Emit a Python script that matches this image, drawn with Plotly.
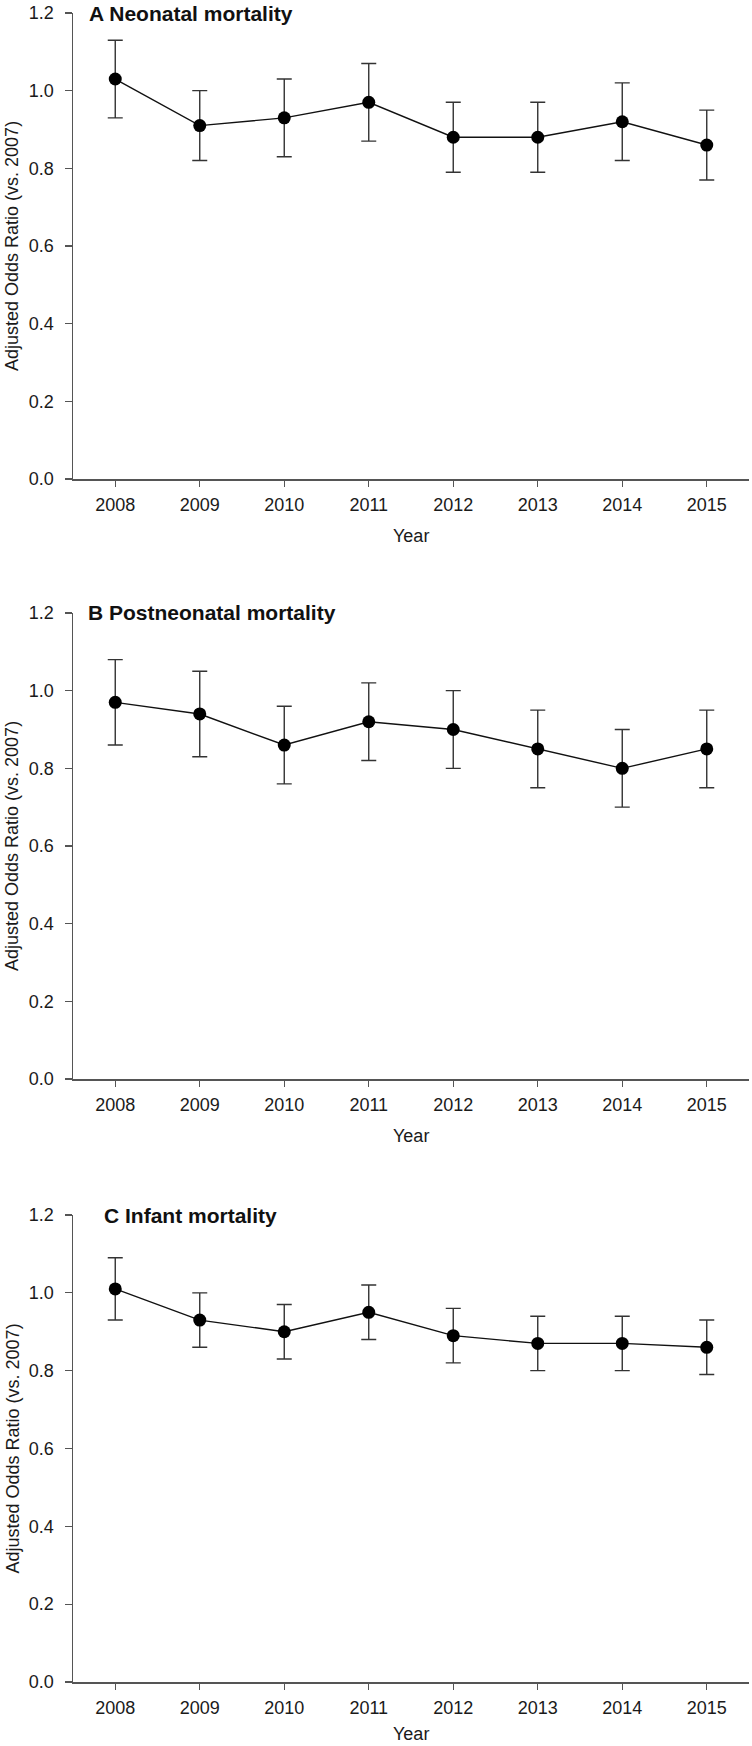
import plotly.graph_objects as go

years = [2008, 2009, 2010, 2011, 2012, 2013, 2014, 2015]
year_ticks = ["2008", "2009", "2010", "2011", "2012", "2013", "2014", "2015"]

# Panel A: Neonatal mortality
neo_or = [1.03, 0.91, 0.93, 0.97, 0.88, 0.88, 0.92, 0.86]
neo_lo = [0.93, 0.82, 0.83, 0.87, 0.79, 0.79, 0.82, 0.77]
neo_hi = [1.13, 1.00, 1.03, 1.07, 0.97, 0.97, 1.02, 0.95]

# Panel B: Postneonatal mortality
post_or = [0.97, 0.94, 0.86, 0.92, 0.90, 0.85, 0.80, 0.85]
post_lo = [0.86, 0.83, 0.76, 0.82, 0.80, 0.75, 0.70, 0.75]
post_hi = [1.08, 1.05, 0.96, 1.02, 1.00, 0.95, 0.90, 0.95]

# Panel C: Infant mortality
inf_or = [1.01, 0.93, 0.90, 0.95, 0.89, 0.87, 0.87, 0.86]
inf_lo = [0.93, 0.86, 0.83, 0.88, 0.82, 0.80, 0.80, 0.79]
inf_hi = [1.09, 1.00, 0.97, 1.02, 0.96, 0.94, 0.94, 0.93]

y_tickvals = [0.0, 0.2, 0.4, 0.6, 0.8, 1.0, 1.2]
y_ticktext = ["0.0", "0.2", "0.4", "0.6", "0.8", "1.0", "1.2"]

panels = [
    ("A Neonatal mortality", neo_or, neo_lo, neo_hi),
    ("B Postneonatal mortality", post_or, post_lo, post_hi),
    ("C Infant mortality", inf_or, inf_lo, inf_hi),
]

W, H = 752, 1746
PLOT_L, PLOT_R, PLOT_T, PLOT_B = 73, 749, 13, 1682  # page px
M_L, M_R, M_T, M_B = PLOT_L, W - PLOT_R, PLOT_T, H - PLOT_B
plot_h = H - M_T - M_B
plot_w = W - M_L - M_R
panel_px = [(13, 479), (613, 1079), (1215, 1682)]   # top/bottom of each panel
title_x_px = [87, 86, 102]
year_shift = [-57, -57, -52]

FONT = "Arial, 'Liberation Sans', Helvetica, sans-serif"
AXIS_COLOR = "#555555"

fig = go.Figure()
annotations = []
layout_axes = {}

for i, (title, orv, lo, hi) in enumerate(panels):
    n = "" if i == 0 else str(i + 1)
    xa, ya = "x" + n, "y" + n
    err_plus = [h - v for h, v in zip(hi, orv)]
    err_minus = [v - l for v, l in zip(orv, lo)]
    fig.add_trace(go.Scatter(
        x=years, y=orv, xaxis=xa, yaxis=ya,
        mode="lines+markers",
        line=dict(color="#111111", width=1.4),
        marker=dict(color="#000000", size=13),
        error_y=dict(type="data", symmetric=False, array=err_plus,
                     arrayminus=err_minus, color="#333333",
                     thickness=1.4, width=7.5),
        showlegend=False,
        hoverinfo="skip",
    ))
    top, bot = panel_px[i]
    d0 = (PLOT_B - bot) / plot_h
    d1 = (PLOT_B - top) / plot_h
    layout_axes["xaxis" + n] = dict(
        domain=[0, 1], anchor=ya, range=[2007.5, 2015.5],
        tickmode="array", tickvals=years, ticktext=year_ticks,
        showline=True, linecolor=AXIS_COLOR, linewidth=1.5,
        ticks="outside", ticklen=6, tickwidth=1.3, tickcolor=AXIS_COLOR,
        showgrid=False, zeroline=False, ticklabelstandoff=3,
        tickfont=dict(family=FONT, size=18, color="#1a1a1a"),
    )
    layout_axes["yaxis" + n] = dict(
        domain=[d0, d1], anchor=xa, range=[0, 1.2],
        tickmode="array", tickvals=y_tickvals, ticktext=y_ticktext,
        showline=True, linecolor=AXIS_COLOR, linewidth=1.5,
        ticks="outside", ticklen=7, tickwidth=1.3, tickcolor=AXIS_COLOR,
        showgrid=False, zeroline=False, ticklabelstandoff=7,
        tickfont=dict(family=FONT, size=18, color="#1a1a1a"),
    )
    # panel title
    annotations.append(dict(
        text="<b>" + title + "</b>", xref="paper", yref=ya + " domain",
        x=(title_x_px[i] - PLOT_L) / plot_w, y=1, xanchor="left",
        yanchor="middle", showarrow=False,
        font=dict(family=FONT, size=21, color="#111111"),
    ))
    # y-axis title
    annotations.append(dict(
        text="Adjusted Odds Ratio (vs. 2007)", xref="paper", yref=ya + " domain",
        x=(12 - PLOT_L) / plot_w, y=0.5, xanchor="center",
        yanchor="middle", textangle=-90, showarrow=False,
        font=dict(family=FONT, size=18, color="#1a1a1a"),
    ))
    # x-axis title
    annotations.append(dict(
        text="Year", xref="paper", yref=ya + " domain",
        x=0.5, y=0, yshift=year_shift[i], xanchor="center", yanchor="middle",
        showarrow=False,
        font=dict(family=FONT, size=18, color="#1a1a1a"),
    ))

fig.update_layout(
    width=W, height=H,
    margin=dict(l=M_L, r=M_R, t=M_T, b=M_B, pad=0),
    paper_bgcolor="white", plot_bgcolor="white",
    annotations=annotations,
    showlegend=False,
    hovermode=False,
    **layout_axes,
)

# remove the browser's default 8px body margin so the figure fills the window
fig.write_html("out.html",
               config={"displayModeBar": False, "staticPlot": True},
               post_script="document.body.style.margin='0';document.body.style.overflow='hidden';")
